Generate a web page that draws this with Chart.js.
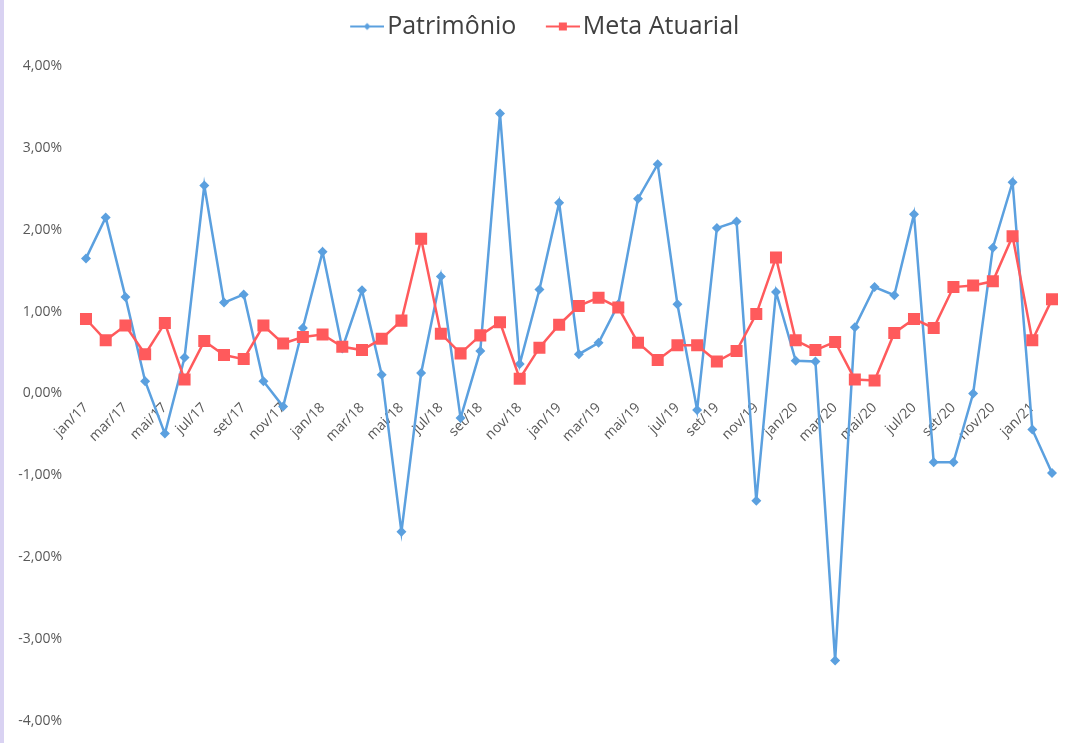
<!DOCTYPE html>
<html>
<head>
<meta charset="utf-8">
<script src="https://cdn.jsdelivr.net/npm/chart.js@4.4.0/dist/chart.umd.min.js"></script>
<style>
  html, body { margin: 0; padding: 0; background: #ffffff; }
  #wrap { position: relative; width: 1074px; height: 743px; }
  #strip { position: absolute; left: 0; top: 0; width: 4px; height: 743px; background: #d9d2f2; }
</style>
</head>
<body>
<div id="wrap">
  <canvas id="c" width="1074" height="743"></canvas>
  <div id="strip"></div>
</div>
<script>
const categories = [
  'jan/17','fev/17','mar/17','abr/17','mai/17','jun/17','jul/17','ago/17','set/17','out/17','nov/17','dez/17',
  'jan/18','fev/18','mar/18','abr/18','mai/18','jun/18','jul/18','ago/18','set/18','out/18','nov/18','dez/18',
  'jan/19','fev/19','mar/19','abr/19','mai/19','jun/19','jul/19','ago/19','set/19','out/19','nov/19','dez/19',
  'jan/20','fev/20','mar/20','abr/20','mai/20','jun/20','jul/20','ago/20','set/20','out/20','nov/20','dez/20',
  'jan/21','fev/21'
];

const patrimonio = [
  1.65, 2.15, 1.18, 0.15, -0.49, 0.44, 2.54, 1.11, 1.21, 0.15, -0.16, 0.80,
  1.73, 0.55, 1.26, 0.23, -1.69, 0.25, 1.43, -0.30, 0.52, 3.42, 0.36, 1.27,
  2.33, 0.48, 0.62, 1.09, 2.38, 2.80, 1.09, -0.20, 2.02, 2.10, -1.31, 1.24,
  0.40, 0.39, -3.26, 0.81, 1.30, 1.20, 2.19, -0.84, -0.84, 0.00, 1.78, 2.58,
  -0.44, -0.97
];

const metaAtuarial = [
  0.91, 0.65, 0.83, 0.48, 0.86, 0.17, 0.64, 0.47, 0.42, 0.83, 0.61, 0.69,
  0.72, 0.57, 0.53, 0.67, 0.89, 1.89, 0.73, 0.49, 0.71, 0.87, 0.18, 0.56,
  0.84, 1.07, 1.17, 1.05, 0.62, 0.41, 0.59, 0.59, 0.39, 0.52, 0.97, 1.66,
  0.65, 0.53, 0.63, 0.17, 0.16, 0.74, 0.91, 0.80, 1.30, 1.32, 1.37, 1.92,
  0.65, 1.15
];

const seriesNames = ['Patrimônio', 'Meta Atuarial'];
const yTicks = [-4, -3, -2, -1, 0, 1, 2, 3, 4];

const BLUE = '#5ba0df';
const RED = '#ff5a5c';
const TEXT = '#595959';

// legend icon: line + marker, drawn in the right 34px of a wider transparent canvas
const ICON_BOX = 40;
function makeIcon(color, kind) {
  const cv = document.createElement('canvas');
  cv.width = ICON_BOX + 19; cv.height = 12;
  const g = cv.getContext('2d');
  const x0 = cv.width - 34;
  g.strokeStyle = color; g.lineWidth = 2.2;
  g.beginPath(); g.moveTo(x0, 6); g.lineTo(x0 + 34, 6); g.stroke();
  g.fillStyle = color;
  g.beginPath();
  const cx = x0 + 17;
  if (kind === 'diamond') {
    g.moveTo(cx, 2.5); g.lineTo(cx + 3.5, 6); g.lineTo(cx, 9.5); g.lineTo(cx - 3.5, 6); g.closePath();
  } else {
    g.rect(cx - 4, 2, 8, 8);
  }
  g.fill();
  return cv;
}
const icons = [makeIcon(BLUE, 'diamond'), makeIcon(RED, 'square')];

const legendSpace = {
  id: 'legendSpace',
  beforeInit(chart) {
    const lg = chart.legend;
    if (!lg) return;
    const f = lg.fit.bind(lg);
    lg.fit = function () { f(); this.height += 17; };
  },
  afterUpdate(chart) {
    const lg = chart.legend;
    if (!lg) return;
    lg.left += 11; lg.right += 11;
  }
};

new Chart(document.getElementById('c'), {
  type: 'line',
  data: {
    labels: categories,
    datasets: [
      {
        label: seriesNames[0],
        data: patrimonio,
        borderColor: BLUE,
        backgroundColor: BLUE,
        borderWidth: 2.5,
        pointStyle: 'rectRot',
        pointRadius: 5,
        pointBorderWidth: 0,
        tension: 0,
        order: 1
      },
      {
        label: seriesNames[1],
        data: metaAtuarial,
        borderColor: RED,
        backgroundColor: RED,
        borderWidth: 2.5,
        pointStyle: 'rect',
        pointRadius: 8.5,
        pointBorderWidth: 0,
        tension: 0,
        order: 0
      }
    ]
  },
  plugins: [legendSpace],
  options: {
    responsive: false,
    animation: false,
    layout: { padding: { left: 0, right: 22, top: 0, bottom: 22 } },
    plugins: {
      tooltip: { enabled: false },
      legend: {
        display: true,
        position: 'top',
        labels: {
          usePointStyle: true,
          pointStyleWidth: ICON_BOX,
          padding: 14,
          color: '#404040',
          font: { family: "'Open Sans', sans-serif", size: 25 },
          generateLabels: (chart) => chart.data.datasets.map((ds, i) => ({
            text: ds.label,
            fillStyle: ds.borderColor,
            strokeStyle: ds.borderColor,
            fontColor: '#404040',
            lineWidth: 0,
            pointStyle: icons[i],
            hidden: false,
            datasetIndex: i
          }))
        }
      }
    },
    scales: {
      x: {
        position: { y: 0 },
        offset: false,
        afterFit: (scale) => { scale.paddingBottom = 0; scale.paddingTop = 0; },
        grid: { display: false, drawTicks: false },
        border: { display: false },
        ticks: {
          autoSkip: false,
          minRotation: 45,
          maxRotation: 45,
          padding: 6,
          color: TEXT,
          font: { family: "'Open Sans', sans-serif", size: 14 },
          callback: function (val, i) { return i % 2 === 0 ? categories[i] : ''; }
        }
      },
      y: {
        min: -4,
        max: 4,
        afterBuildTicks: (scale) => { scale.ticks = yTicks.map(v => ({ value: v })); },
        afterFit: (scale) => { scale.width = 86; scale.paddingBottom = 0; },
        grid: { display: false, drawTicks: false },
        border: { display: false },
        ticks: {
          padding: 24,
          color: TEXT,
          font: { family: "'Open Sans', sans-serif", size: 14 },
          callback: (v) => v.toFixed(2).replace('.', ',') + '%'
        }
      }
    }
  }
});
</script>
</body>
</html>
